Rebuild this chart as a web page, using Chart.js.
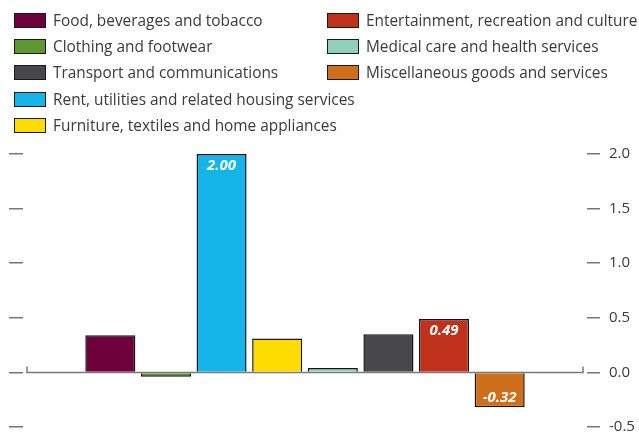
<!DOCTYPE html>
<html><head><meta charset="utf-8">
<script src="https://cdn.jsdelivr.net/npm/chart.js@4"></script>
<style>
html,body{margin:0;padding:0;background:#fff;}
#wrap{position:relative;width:639px;height:437px;overflow:hidden;}
#c{position:absolute;left:0;top:0;}
#legend{position:absolute;left:0;top:0;width:639px;height:140px;font-family:'Open Sans',sans-serif;font-size:15.4px;color:#3a3a3a;}
.item{position:absolute;display:flex;align-items:center;height:26px;white-space:nowrap;}
.sw{box-sizing:border-box;width:32px;height:15px;border:1.5px solid #1a1a1a;margin-right:7px;}
</style></head>
<body><div id="wrap"><canvas id="c" width="639" height="445" style="width:639px;height:445px"></canvas><div id="legend"></div></div>
<script>
// ---- data ----
const categories = [
  "Food, beverages and tobacco",
  "Clothing and footwear",
  "Rent, utilities and related housing services",
  "Furniture, textiles and home appliances",
  "Medical care and health services",
  "Transport and communications",
  "Entertainment, recreation and culture",
  "Miscellaneous goods and services"
];
const values = [0.34, -0.04, 2.00, 0.31, 0.04, 0.35, 0.49, -0.32];
const valueLabels = ["", "", "2.00", "", "", "", "0.49", "-0.32"];
const colors = ["#6e003b", "#5e9732", "#15b4e9", "#ffdc00", "#8fd1b9", "#48484a", "#bf311a", "#cf6f1b"];
const legendColumns = [[0, 1, 5, 2, 3], [6, 4, 7]];
const yMin = -0.5, yMax = 2.0, yStep = 0.5;

// ---- legend (HTML) ----
const legendEl = document.getElementById('legend');
const colLeft = [14, 327];
legendColumns.forEach((col, ci) => {
  col.forEach((idx, ri) => {
    const d = document.createElement('div');
    d.className = 'item';
    d.style.left = colLeft[ci] + 'px';
    d.style.top = (7 + ri * 26.4) + 'px';
    const sw = document.createElement('span');
    sw.className = 'sw';
    sw.style.background = colors[idx];
    const t = document.createElement('span');
    t.textContent = categories[idx];
    d.appendChild(sw); d.appendChild(t);
    legendEl.appendChild(d);
  });
});

// ---- plugins ----
const baseline = {
  id: 'baseline',
  beforeDatasetsDraw(chart) {
    const {ctx, chartArea} = chart;
    const y0 = Math.round(chart.scales.y.getPixelForValue(0)) + 0.5;
    const l = chartArea.left + 4, r = chartArea.right - 4;
    ctx.save();
    ctx.strokeStyle = '#7a7a7a';
    ctx.lineWidth = 1.5;
    ctx.beginPath();
    ctx.moveTo(l, y0 - 6); ctx.lineTo(l, y0); ctx.lineTo(r, y0); ctx.lineTo(r, y0 - 6);
    ctx.stroke();
    ctx.restore();
  }
};
const barLabels = {
  id: 'barLabels',
  afterDatasetsDraw(chart) {
    const {ctx} = chart;
    const meta = chart.getDatasetMeta(0);
    ctx.save();
    ctx.fillStyle = '#ffffff';
    ctx.font = 'italic bold 15px "Open Sans"';
    ctx.textAlign = 'center';
    ctx.textBaseline = 'middle';
    meta.data.forEach((el, i) => {
      if (!valueLabels[i]) return;
      const y = values[i] >= 0 ? el.y + 12 : el.y - 10;
      ctx.fillText(valueLabels[i], el.x, y);
    });
    ctx.restore();
  }
};

// ---- chart ----
new Chart(document.getElementById('c'), {
  type: 'bar',
  data: {
    datasets: [{
      data: values.map((v, i) => ({x: i + 1, y: v})),
      backgroundColor: colors,
      borderColor: '#141414',
      borderWidth: 1.5,
      barPercentage: 0.9,
      categoryPercentage: 1.0
    }]
  },
  options: {
    responsive: false,
    animation: false,
    devicePixelRatio: 1,
    events: [],
    layout: {padding: {top: 154, bottom: 5, left: 0, right: 0}},
    plugins: {legend: {display: false}, tooltip: {enabled: false}},
    scales: {
      x: {
        type: 'linear', min: -0.57, max: 9.57, display: false, bounds: 'data', offset: false,
        afterBuildTicks: s => { s.ticks = categories.map((c, i) => ({value: i + 1})); }
      },
      y: {
        position: 'right', min: yMin, max: yMax,
        ticks: {stepSize: yStep, callback: v => v.toFixed(1), color: '#3a3a3a',
                font: {family: 'Open Sans', size: 15}, padding: 9},
        grid: {drawOnChartArea: false, drawTicks: true, tickLength: 13, color: '#777', lineWidth: 1.5},
        border: {display: false},
        afterFit: s => { s.width = 52; }
      },
      yl: {
        position: 'left', min: yMin, max: yMax,
        ticks: {stepSize: yStep, display: false},
        grid: {drawOnChartArea: false, drawTicks: true, tickLength: 14, color: '#777', lineWidth: 1.5},
        border: {display: false},
        afterFit: s => { s.width = 23; }
      }
    }
  },
  plugins: [baseline, barLabels]
});
</script>
</body></html>
